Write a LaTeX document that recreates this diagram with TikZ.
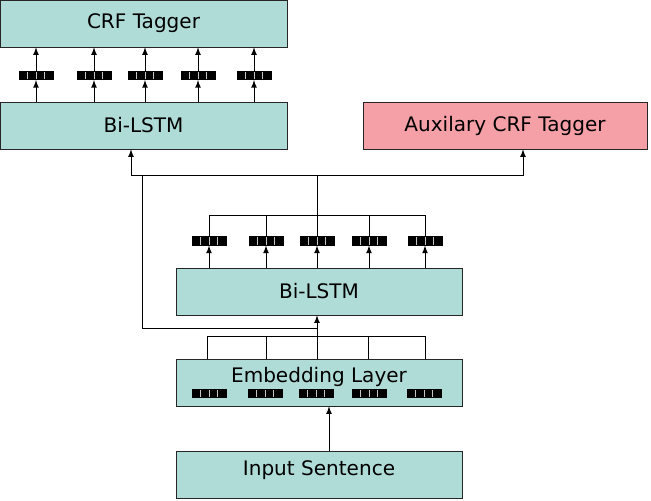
\documentclass[tikz,border=0pt]{standalone}
\usepackage{fontspec}
\setmainfont{DejaVu Sans}
\usepackage{tikz}
\usetikzlibrary{positioning, arrows, calc}
\definecolor{boxteal}{RGB}{176,220,216}
\definecolor{boxpink}{RGB}{244,160,166}
\tikzset{
    layer/.style={draw=black!85, fill=boxteal, minimum width=5.74cm, minimum height=0.94cm,
      inner sep=0pt, font=\fontsize{11.4}{13}\selectfont},
    auxlayer/.style={layer, fill=boxpink},
    captext/.style={text height=0pt, text depth=0pt},
    vec/.style={draw=black, fill=black, minimum width=0.68cm, minimum height=0.17cm, inner sep=0pt,
      path picture={
        \foreach \k in {1,2,3}
          \draw[gray!45, line width=0.3pt]
            ($(path picture bounding box.south west)!\k*0.25!(path picture bounding box.south east)$) --
            ($(path picture bounding box.north west)!\k*0.25!(path picture bounding box.north east)$);
      }},
    flow/.style={-latex, line width=0.5pt},
    wire/.style={line width=0.5pt},
}

\begin{document}
\begin{tikzpicture}[x=0.02cm, y=-0.02cm]
    \useasboundingbox (0,0) rectangle (651,500);

    % layers
    \node[layer] (crf) at (143.5,23.5) {CRF Tagger};
    \node[layer] (toplstm) at (143.5,125.5) {Bi-LSTM};
    \node[auxlayer, minimum width=5.68cm] (aux) at (505,125.5) {Auxilary CRF Tagger};
    \node[layer, minimum width=5.72cm] (lstm) at (319,291.5) {Bi-LSTM};
    \node[layer, minimum width=5.72cm, captext] (embed) at (319,382.5) {Embedding Layer};
    \node[layer, minimum width=5.72cm, captext] (input) at (319,475) {Input Sentence};

    % top tagger outputs
    \foreach \x [count=\i] in {36,94,145,198,254} {
      \node[vec] (tv\i) at (\x,75.5) {};
      \draw[flow] (tv\i |- toplstm.north) -- (tv\i.south);
      \draw[flow] (tv\i.north) -- (tv\i |- crf.south);
    }

    % shared Bi-LSTM outputs
    \coordinate (mjoin) at (317,215);
    \coordinate (split) at (317,175);
    \foreach \x [count=\i] in {209,266,317,369,425} {
      \node[vec] (mv\i) at (\x,241) {};
      \draw[flow] (mv\i |- lstm.north) -- (mv\i.south);
      \draw[wire] (mv\i.north) -- (mv\i |- mjoin);
    }
    \draw[wire] (mv1 |- mjoin) -- (mv5 |- mjoin);
    \draw[wire] (mjoin) -- (split);
    \coordinate (lefttap) at (131,175);
    \coordinate (righttap) at (523,175);
    \draw[flow] (split) -| (toplstm.south -| lefttap);
    \draw[flow] (split) -| (aux.south -| righttap);

    % skip from embeddings
    \coordinate (skip) at (142,175);
    \coordinate (skipturn) at (142,328);
    \coordinate (skipend) at (317,328);
    \draw[wire] (skip) -- (skipturn) -- (skipend);

    % embeddings
    \coordinate (ejoin) at (317,336);
    \foreach \x [count=\i] in {209,265,316,369,424}
      \node[vec] (ev\i) at (\x,393.5) {};
    \foreach \x in {207,266,317,368,425}
      \draw[wire] (embed.north -| \x,0) -- (ejoin -| \x,0);
    \draw[wire] (ejoin -| 207,0) -- (ejoin -| 425,0);
    \draw[flow] (embed.north -| ejoin) -- (lstm.south -| ejoin);
    \draw[flow] (input.north -| 329,0) -- (embed.south -| 329,0);
\end{tikzpicture}
\end{document}
